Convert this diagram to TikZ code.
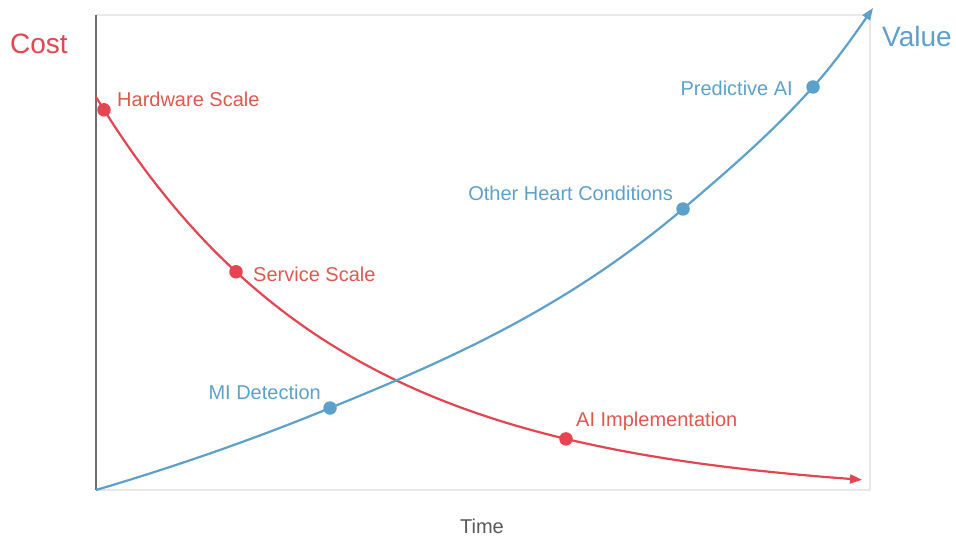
\documentclass[tikz,border=0pt]{standalone}
\usepackage{fontspec}
\setmainfont{Liberation Sans}
\usetikzlibrary{positioning,arrows.meta}

\definecolor{costred}{RGB}{229,68,80}
\definecolor{costtext}{RGB}{222,88,78}
\definecolor{valueblue}{RGB}{92,160,204}
\definecolor{axisgrey}{RGB}{110,110,110}
\definecolor{framegrey}{RGB}{232,232,232}

\tikzset{
  dot/.style={circle, fill=#1, inner sep=0pt, minimum size=13.5pt},
  lbl/.style={text=#1, font=\fontsize{20}{22}\selectfont, inner sep=0pt},
  curve/.style={draw=#1, line width=2.2pt, -{Triangle[length=12pt,width=9pt]}},
  declare function={cost(\x)=497-400*exp(-0.0041*(\x-96));}
}

\begin{document}
\begin{tikzpicture}[x=1pt,y=-1pt]
        \useasboundingbox (0,0) rectangle (956,540);
        % frame
        \coordinate (tl) at (96,15);
        \coordinate (bl) at (96,490);
        \coordinate (tr) at (870,15);
        \coordinate (br) at (870,490);
        \draw[framegrey, line width=1.5pt] (tl) -- (tr) -- (br) -- (bl);
        \draw[axisgrey, line width=2pt] (tl) -- (bl);
        % cost curve
        \draw[curve=costred] plot[domain=96:862, samples=100] (\x,{cost(\x)});
        \node[dot=costred] (hw) at (104,{cost(104)}) {};
        \node[dot=costred] (svc) at (236,{cost(236)}) {};
        \node[dot=costred] (ai) at (566,{cost(566)}) {};
        % value curve
        \coordinate (v0) at (96,490);
        \coordinate (v1) at (330,408);
        \coordinate (v2) at (683,209);
        \coordinate (v3) at (813,87);
        \coordinate (v4) at (873,8);
        \draw[curve=valueblue] (v0) .. controls (174,467) and (252,440) .. (v1)
            .. controls (448,360) and (565,309) .. (v2)
            .. controls (726,172) and (770,135) .. (v3)
            .. controls (833,65) and (853,37) .. (v4);
        \node[dot=valueblue] (mi) at (v1) {};
        \node[dot=valueblue] (ohc) at (v2) {};
        \node[dot=valueblue] (pai) at (v3) {};
        % labels
        \node[lbl=costtext, anchor=west] (hwl) at (117,99) {Hardware Scale};
        \node[lbl=costtext, anchor=west] (svcl) at (253,274) {Service Scale};
        \node[lbl=costtext, anchor=west] (ail) at (576,421) {AI Implementation};
        \node[lbl=valueblue, anchor=east] (mil) at (321,392) {MI Detection};
        \node[lbl=valueblue, anchor=east] (ohcl) at (673,193) {Other Heart Conditions};
        \node[lbl=valueblue, anchor=east] (pail) at (793,88) {Predictive AI};
        \node[text=costred, font=\fontsize{28}{30}\selectfont, anchor=west, inner sep=0pt] (cost) at (10,44) {Cost};
        \node[text=valueblue, font=\fontsize{28}{30}\selectfont, anchor=west, inner sep=0pt] (value) at (882,36) {Value};
        \node[text=axisgrey!80!black, font=\fontsize{20}{22}\selectfont, inner sep=0pt] (time) at (482,526) {Time};
    \end{tikzpicture}
\end{document}
